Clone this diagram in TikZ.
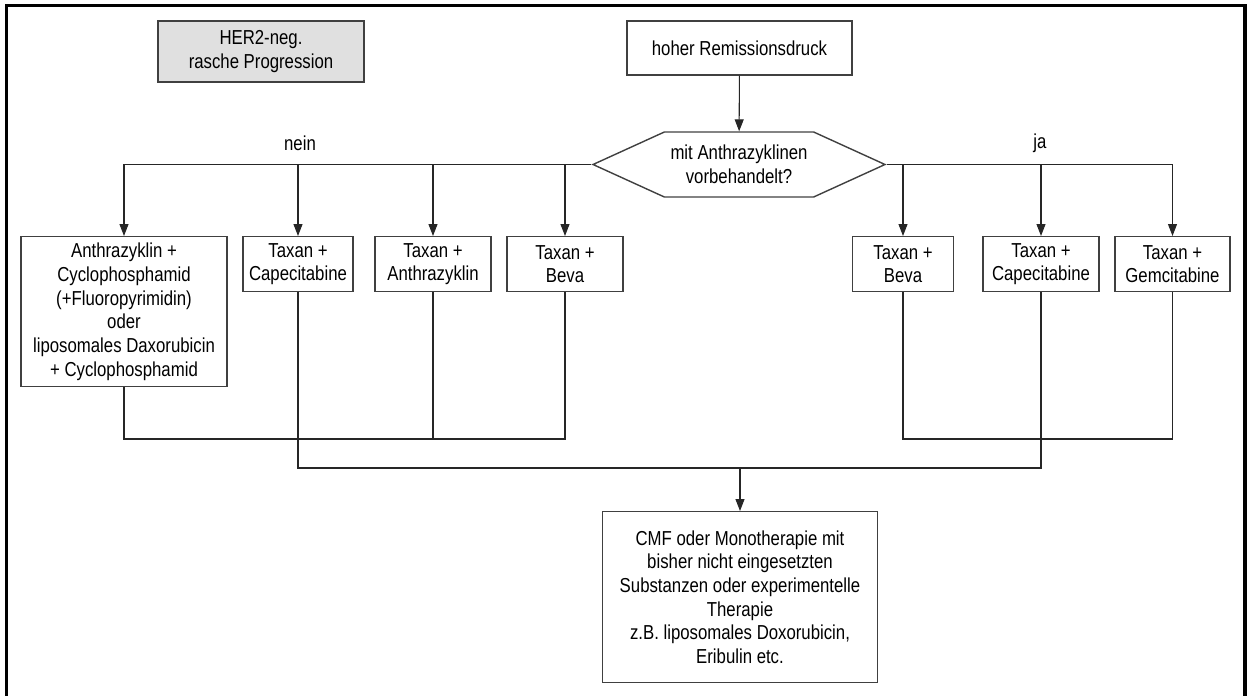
\documentclass[tikz,border=0pt]{standalone}
\usepackage{fontspec}
\setmainfont{Liberation Sans}[FakeStretch=0.83]
\usepackage{tikz}
\usetikzlibrary{positioning, arrows.meta, shapes.symbols}

\begin{document}
\begin{tikzpicture}[x=0.02cm, y=-0.02cm]
	% Define styles
	\tikzset{
		box/.style={rectangle, draw=black!75, line width=0.8pt, fill=white, align=center, inner sep=2pt, minimum height=1.1cm, font=\fontsize{11.5}{13.5}\selectfont},
		start/.style={box, fill=black!12},
		frage/.style={signal, signal to=west and east, signal pointer angle=49, draw=black!75, line width=0.8pt, align=center, font=\fontsize{11.5}{13.5}\selectfont},
		line/.style={draw=black!85, line width=0.6pt, -{Triangle[length=2.4mm, width=1.8mm]}},
		merge/.style={draw=black!85, line width=0.6pt},
		answer/.style={font=\fontsize{11.5}{13.5}\selectfont}
	}
	
	\useasboundingbox (0,0) rectangle (1248,696);
	\draw[line width=1.8pt] (6.5,720) -- (6.5,5.5) -- (1245,5.5) -- (1245,720);
	
	% Nodes
	\node[start, minimum width=4.12cm, minimum height=1.22cm] (her2) at (261,51.5) {HER2-neg.\\rasche Progression};
	\node[box, minimum width=4.5cm, minimum height=1.08cm] (druck) at (739.5,48) {hoher Remissionsdruck};
	\node[frage, minimum width=5.84cm, minimum height=1.3cm] (frage) at (739,164.5) {mit Anthrazyklinen\\vorbehandelt?};
	
	\node[answer] (nein) at (300,143) {nein};
	\node[answer] (ja) at (1040,143) {ja};
	
	\node[box, anchor=north, minimum width=4.12cm, minimum height=3cm] (a1) at (124,236) {Anthrazyklin +\\Cyclophosphamid\\(+Fluoropyrimidin)\\oder\\liposomales Daxorubicin\\+ Cyclophosphamid};
	\node[box, anchor=north, minimum width=2.2cm] (a2) at (298,236) {Taxan +\\Capecitabine};
	\node[box, anchor=north, minimum width=2.32cm] (a3) at (433,236) {Taxan +\\Anthrazyklin};
	\node[box, anchor=north, minimum width=2.32cm] (a4) at (565,236) {Taxan +\\Beva};
	
	\node[box, anchor=north, minimum width=2.02cm] (b1) at (903,236) {Taxan +\\Beva};
	\node[box, anchor=north, minimum width=2.32cm] (b2) at (1041,236) {Taxan +\\Capecitabine};
	\node[box, anchor=north, minimum width=2.3cm] (b3) at (1172.5,236) {Taxan +\\Gemcitabine};
	
	\node[box, anchor=north, minimum width=5.5cm, minimum height=3.42cm] (ende) at (740,511) {CMF oder Monotherapie mit\\bisher nicht eingesetzten\\Substanzen oder experimentelle\\Therapie\\z.B. liposomales Doxorubicin,\\Eribulin etc.};
	
	\coordinate (sammel) at (0,439);
	\coordinate (ziel) at (0,468);
	
	% Arrows
	\draw[line] (druck) -- (frage);
	
	\draw[line] (frage.west) -| (a1.north);
	\draw[line] (frage.west -| a2.north) -- (a2.north);
	\draw[line] (frage.west -| a3.north) -- (a3.north);
	\draw[line] (frage.west -| a4.north) -- (a4.north);
	
	\draw[line] (frage.east) -| (b3.north);
	\draw[line] (frage.east -| b1.north) -- (b1.north);
	\draw[line] (frage.east -| b2.north) -- (b2.north);
	
	\draw[merge] (a1.south) |- (sammel -| a4.south) -- (a4.south);
	\draw[merge] (a3.south) -- (a3.south |- sammel);
	\draw[merge] (b1.south) |- (sammel -| b3.south) -- (b3.south);
	\draw[merge] (a2.south) |- (ziel -| b2.south) -- (b2.south);
	\draw[line] (ende.north |- ziel) -- (ende.north);
	
\end{tikzpicture}
\end{document}
